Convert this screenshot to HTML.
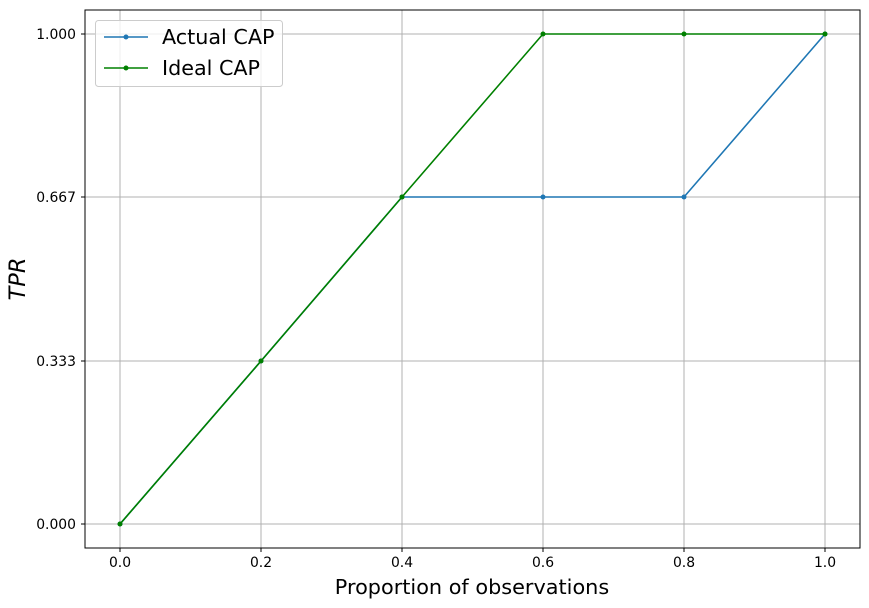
<!DOCTYPE html>
<html><head><style>body{margin:0;background:#fff}svg{display:block}text{font-family:"DejaVu Sans","Liberation Sans",sans-serif}</style></head><body>
<svg width="869" height="608" xmlns="http://www.w3.org/2000/svg">
<g stroke="#b0b0b0" stroke-width="1">
<line x1="120" y1="10" x2="120" y2="548"/><line x1="261" y1="10" x2="261" y2="548"/><line x1="402" y1="10" x2="402" y2="548"/><line x1="543" y1="10" x2="543" y2="548"/><line x1="684" y1="10" x2="684" y2="548"/><line x1="825" y1="10" x2="825" y2="548"/>
<line x1="85" y1="524" x2="860" y2="524"/><line x1="85" y1="361" x2="860" y2="361"/><line x1="85" y1="197" x2="860" y2="197"/><line x1="85" y1="34" x2="860" y2="34"/>
</g>
<polyline points="120,524 261,361 402,197 543,197 684,197 825,34" fill="none" stroke="#1f77b4" stroke-width="1.6"/>
<g fill="#1f77b4"><circle cx="120" cy="524" r="2.5"/><circle cx="261" cy="361" r="2.5"/><circle cx="402" cy="197" r="2.5"/><circle cx="543" cy="197" r="2.5"/><circle cx="684" cy="197" r="2.5"/><circle cx="825" cy="34" r="2.5"/></g>
<polyline points="120,524 261,361 402,197 543,34 684,34 825,34" fill="none" stroke="#008000" stroke-width="1.6"/>
<g fill="#008000"><circle cx="120" cy="524" r="2.5"/><circle cx="261" cy="361" r="2.5"/><circle cx="402" cy="197" r="2.5"/><circle cx="543" cy="34" r="2.5"/><circle cx="684" cy="34" r="2.5"/><circle cx="825" cy="34" r="2.5"/></g>
<rect x="85" y="10" width="775" height="538" fill="none" stroke="#000" stroke-width="1"/>
<g stroke="#000"><line x1="120" y1="548" x2="120" y2="552"/><line x1="261" y1="548" x2="261" y2="552"/><line x1="402" y1="548" x2="402" y2="552"/><line x1="543" y1="548" x2="543" y2="552"/><line x1="684" y1="548" x2="684" y2="552"/><line x1="825" y1="548" x2="825" y2="552"/>
<line x1="81" y1="524" x2="85" y2="524"/><line x1="81" y1="361" x2="85" y2="361"/><line x1="81" y1="197" x2="85" y2="197"/><line x1="81" y1="34" x2="85" y2="34"/></g>
<g font-size="13.9" text-anchor="middle"><text x="120" y="567">0.0</text><text x="261" y="567">0.2</text><text x="402" y="567">0.4</text><text x="543" y="567">0.6</text><text x="684" y="567">0.8</text><text x="825" y="567">1.0</text></g>
<g font-size="13.9" text-anchor="end"><text x="76" y="529">0.000</text><text x="76" y="366">0.333</text><text x="76" y="202">0.667</text><text x="76" y="39">1.000</text></g>
<text x="472" y="594" font-size="20.8" text-anchor="middle">Proportion of observations</text>
<text transform="translate(25,279) rotate(-90)" font-size="22.5" font-style="italic" text-anchor="middle">TPR</text>
<rect x="95.5" y="20.5" width="187" height="66" rx="3" fill="#fff" fill-opacity="0.8" stroke="#ccc"/>
<line x1="104" y1="37" x2="148" y2="37" stroke="#1f77b4" stroke-width="1.6"/><circle cx="126" cy="37" r="2.5" fill="#1f77b4"/>
<line x1="104" y1="68" x2="148" y2="68" stroke="#008000" stroke-width="1.6"/><circle cx="126" cy="68" r="2.5" fill="#008000"/>
<text x="162" y="44" font-size="20.7">Actual CAP</text><text x="162" y="75" font-size="20.7">Ideal CAP</text>
</svg></body></html>
